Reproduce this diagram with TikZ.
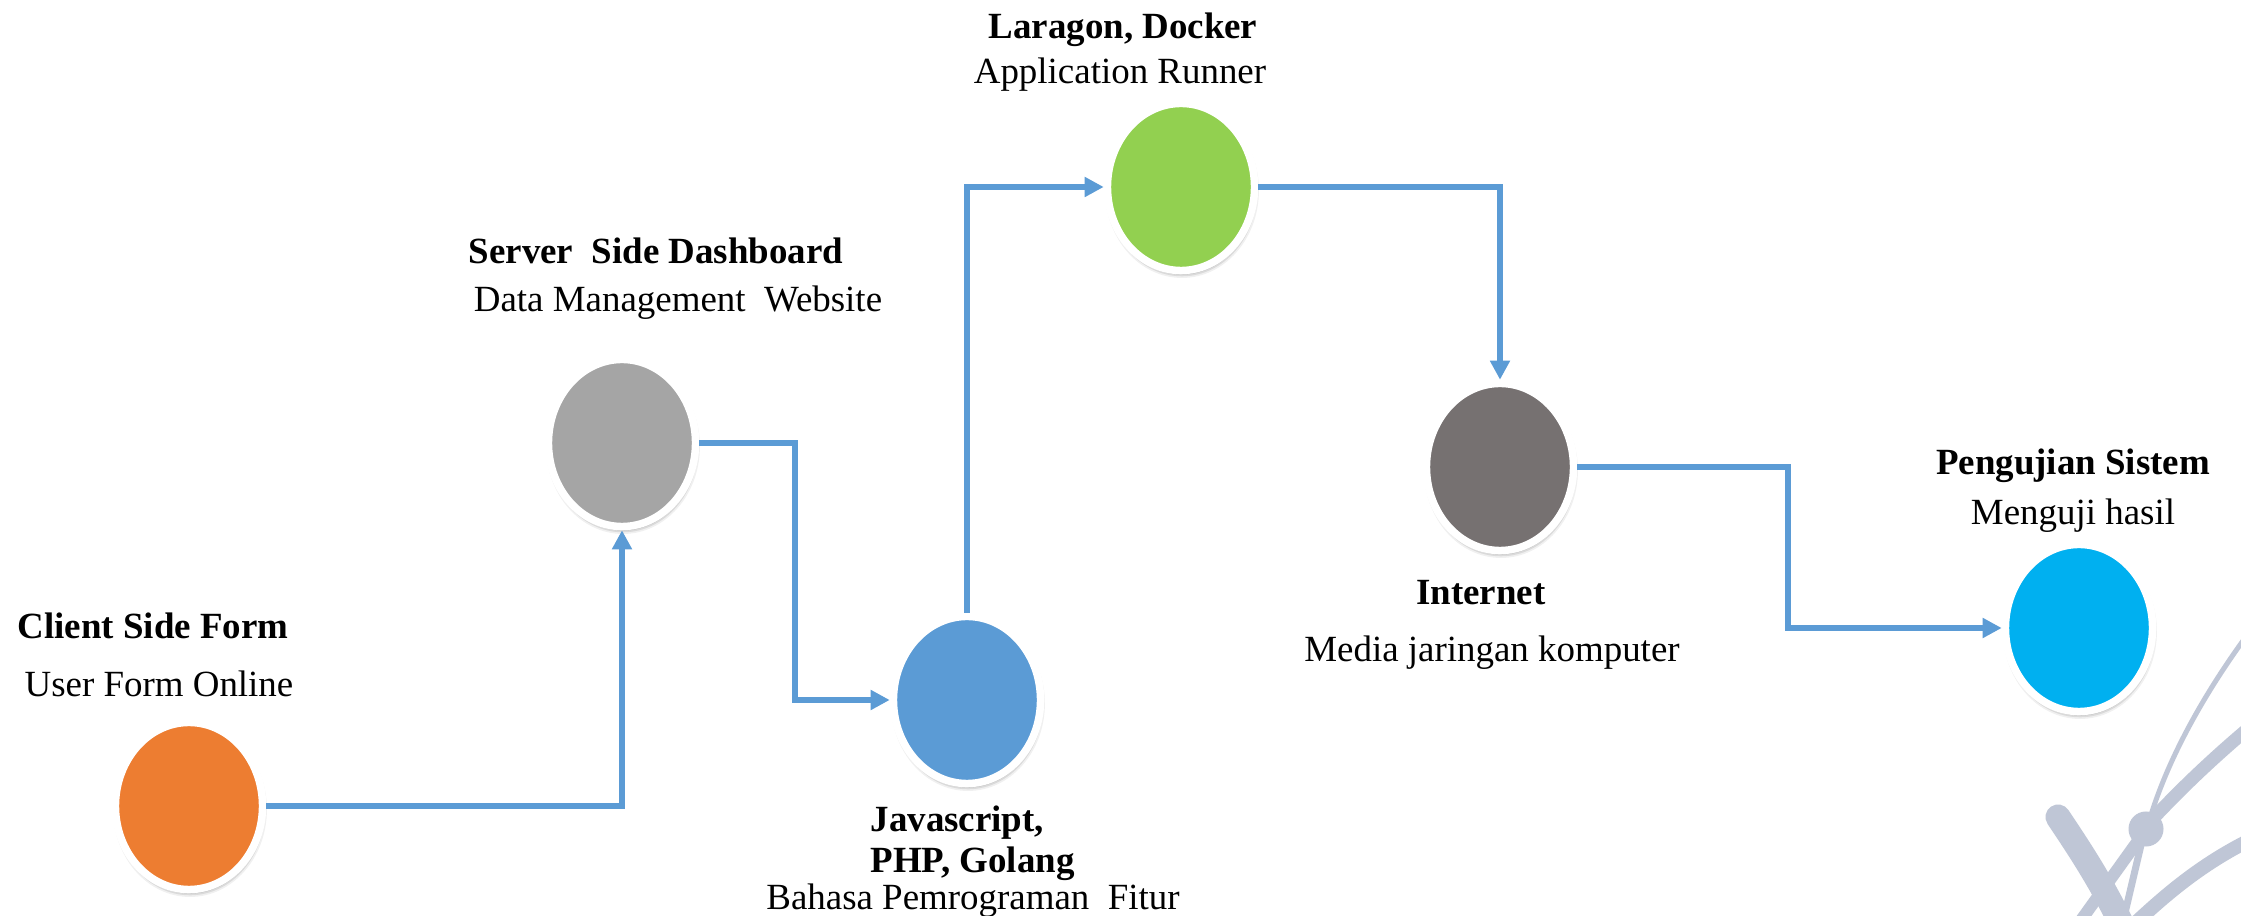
\documentclass[tikz,border=0pt]{standalone}
\usepackage{fontspec}
\setmainfont{Liberation Serif}
\usetikzlibrary{shapes.geometric, arrows.meta, shadows, calc}
\definecolor{corange}{HTML}{ED7D31}
\definecolor{cgray}{HTML}{A5A5A5}
\definecolor{cblue}{HTML}{5B9BD5}
\definecolor{cgreen}{HTML}{92D050}
\definecolor{cdgray}{HTML}{767171}
\definecolor{ccyan}{HTML}{00B0F0}
\definecolor{lineblue}{HTML}{5B9BD5}
\definecolor{wm}{HTML}{BFC6D6}
\begin{document}
\begin{tikzpicture}[x=0.01cm, y=-0.01cm,
  dot/.style={ellipse, draw=white, line width=0.075cm, minimum width=1.47cm, minimum height=1.67cm, inner sep=0pt,
    drop shadow={shadow xshift=0.01cm, shadow yshift=-0.035cm, opacity=0.06, shadow scale=1.045, fill=black},
    drop shadow={shadow xshift=0.01cm, shadow yshift=-0.04cm, opacity=0.09, shadow scale=1.02, fill=black},
    drop shadow={shadow xshift=0.01cm, shadow yshift=-0.04cm, opacity=0.12, shadow scale=1.0, fill=black}},
  conn/.style={draw=lineblue, line width=0.06cm, -{Triangle[length=0.19cm,width=0.19cm]}},
  title/.style={font=\bfseries\fontsize{10.5}{12}\selectfont, inner sep=0pt, anchor=base},
  sub/.style={font=\fontsize{10.5}{12}\selectfont, inner sep=0pt, anchor=base}]
\useasboundingbox (0,0) rectangle (2241,916);
\fill[white] (0,0) rectangle (2241,916);

% watermark
\begin{scope}
\clip (0,0) rectangle (2241,916);
\begin{scope}[draw=wm, line cap=round]
\draw[line width=0.25cm] (2058,817) .. controls (2080,850) and (2100,880) .. (2122,925);
\draw[line width=0.05cm] (2245,638) .. controls (2200,700) and (2165,765) .. (2148,825);
\draw[line width=0.13cm] (2147,825) .. controls (2175,795) and (2205,765) .. (2250,727);
\draw[line width=0.12cm] (2140,838) -- (2074,930);
\draw[line width=0.07cm] (2141,845) -- (2121,930);
\draw[line width=0.14cm] (2128,930) .. controls (2165,895) and (2200,865) .. (2250,840);
\fill[wm] (2146,829) circle[radius=0.175cm];
\end{scope}
\end{scope}

% nodes
\node[dot, fill=corange] (client) at (189,806) {};
\node[dot, fill=cgray] (server) at (622,443) {};
\node[dot, fill=cblue] (js) at (967,700) {};
\node[dot, fill=cgreen] (laragon) at (1181,187) {};
\node[dot, fill=cdgray] (internet) at (1500,467) {};
\node[dot, fill=ccyan] (test) at (2079,628) {};

% connectors
\coordinate (k2) at (795,0);
\coordinate (k5) at (1788,0);
\draw[conn] (client.east) -| (server.south);
\draw[conn] (server.east) -- (server.east -| k2) |- (js.west);
\draw[conn] (js.north) |- (laragon.west);
\draw[conn] (laragon.east) -| (internet.north);
\draw[conn] (internet.east) -- (internet.east -| k5) |- (test.west);

% labels
\node[title] (t1) at (153,639) {Client Side Form};
\node[sub] (s1) at (159,697) {User Form Online};
\node[title] (t2) at (656,264) {Server\ \ Side Dashboard};
\node[sub] (s2) at (678,312) {Data Management\ \ Website};
\node[title] (t3) at (1123,39) {Laragon, Docker};
\node[sub] (s3) at (1120,84) {Application Runner};
\node[title] (t4) at (1481,605) {Internet};
\node[sub] (s4) at (1492,662) {Media jaringan komputer};
\node[title] (t5) at (2073,475) {Pengujian Sistem};
\node[sub] (s5) at (2073,525) {Menguji hasil};
\node[title, anchor=base west] (t6a) at (870,832) {Javascript,};
\node[title, anchor=base west] (t6b) at (870,873) {PHP, Golang};
\node[sub] (s6) at (973,910) {Bahasa Pemrograman\ \ Fitur};
\end{tikzpicture}
\end{document}
